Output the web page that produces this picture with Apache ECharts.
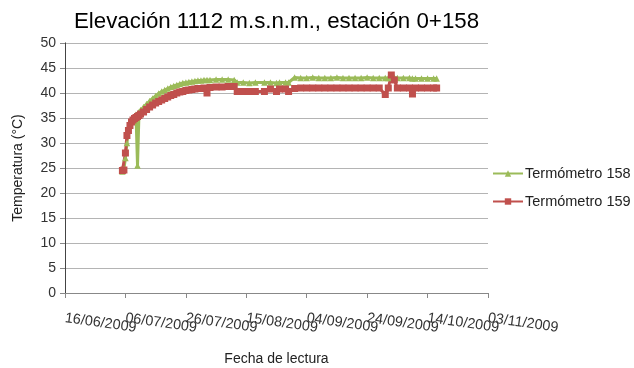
<!DOCTYPE html>
<html>
<head>
<meta charset="utf-8">
<script src="https://cdn.jsdelivr.net/npm/echarts@6/dist/echarts.min.js"></script>
<style>html,body{margin:0;padding:0;background:#fff}#c{width:634px;height:368px}</style>
</head>
<body>
<div id="c"></div>
<script>
var titleText = 'Elevación 1112 m.s.n.m., estación 0+158';
var seriesNames = ['Termómetro 158', 'Termómetro 159'];
var axisStart = '2009-06-16';
var axisEnd = '2009-11-03';
var yTicks = [0, 5, 10, 15, 20, 25, 30, 35, 40, 45, 50];

var dates = [
 '2009-07-05 00:00','2009-07-05 12:00','2009-07-06 00:00','2009-07-06 12:00','2009-07-07 00:00','2009-07-07 12:00',
 '2009-07-08 00:00','2009-07-08 12:00','2009-07-09 00:00','2009-07-09 12:00','2009-07-10 00:00','2009-07-10 12:00',
 '2009-07-11','2009-07-12','2009-07-13','2009-07-14','2009-07-15','2009-07-16','2009-07-17','2009-07-18',
 '2009-07-19','2009-07-20','2009-07-21','2009-07-22','2009-07-23','2009-07-24','2009-07-25','2009-07-26',
 '2009-07-27','2009-07-28','2009-07-29','2009-07-30','2009-07-31','2009-08-01','2009-08-02','2009-08-03',
 '2009-08-05','2009-08-07','2009-08-09','2009-08-11','2009-08-12','2009-08-14','2009-08-16','2009-08-18',
 '2009-08-21','2009-08-23','2009-08-25','2009-08-26','2009-08-28','2009-08-29','2009-08-31','2009-09-02',
 '2009-09-04','2009-09-06','2009-09-08','2009-09-10','2009-09-12','2009-09-14','2009-09-16','2009-09-18',
 '2009-09-20','2009-09-22','2009-09-24','2009-09-26','2009-09-28','2009-09-30','2009-10-01','2009-10-02',
 '2009-10-03','2009-10-04','2009-10-06','2009-10-08','2009-10-09','2009-10-10','2009-10-12','2009-10-14',
 '2009-10-16','2009-10-17'
];
var t158 = [
 24.3,24.8,27.0,30.0,32.5,33.8,
 34.5,35.0,35.4,35.7,25.5,36.2,
 36.6,37.2,37.8,38.4,38.9,39.4,39.9,40.3,
 40.6,40.9,41.2,41.4,41.6,41.8,42.0,42.1,
 42.2,42.3,42.4,42.5,42.5,42.6,42.6,42.6,
 42.7,42.7,42.7,42.6,42.1,42.1,42.0,42.1,
 42.1,42.1,42.0,42.1,42.1,42.1,43.1,43.0,
 43.0,43.1,43.0,43.0,43.0,43.1,43.0,43.0,
 43.0,43.0,43.1,43.0,43.0,43.0,43.0,43.3,
 43.1,43.0,43.0,43.0,42.9,42.9,42.9,42.9,
 42.9,42.9
];
var t159 = [
 24.5,24.6,28.0,31.5,32.5,33.5,
 34.2,34.6,34.9,35.1,35.3,35.5,
 35.8,36.2,36.7,37.2,37.6,38.0,38.3,38.6,
 38.9,39.2,39.5,39.7,40.0,40.2,40.3,40.5,
 40.6,40.7,40.8,40.9,40.9,41.0,40.0,41.1,
 41.2,41.2,41.3,41.3,40.3,40.3,40.3,40.3,
 40.3,40.8,40.3,40.8,40.8,40.3,40.9,41.0,
 41.0,41.0,41.0,41.0,41.0,41.0,41.0,41.0,
 41.0,41.0,41.0,41.0,41.0,39.7,41.0,43.6,
 42.6,41.0,41.0,41.0,39.8,41.0,41.0,41.0,
 41.0,41.0
];

function toMs(s) {
  var p = s.split(' ');
  var d = p[0].split('-');
  var h = 0, m = 0;
  if (p[1]) { var t = p[1].split(':'); h = +t[0]; m = +t[1]; }
  return Date.UTC(+d[0], +d[1] - 1, +d[2], h, m);
}
var DAY = 86400000;
var t0 = toMs(axisStart);
var xMax = toDay(axisEnd);
var xStep = 20;
function toDay(s) { return (toMs(s) - t0) / DAY; }
function pad(n) { return (n < 10 ? '0' : '') + n; }
function dayLabel(v) {
  var dt = new Date(t0 + Math.round(v) * DAY);
  return pad(dt.getUTCDate()) + '/' + pad(dt.getUTCMonth() + 1) + '/' + dt.getUTCFullYear();
}
var xs = dates.map(toDay);
var d158 = xs.map(function (x, i) { return [x, t158[i]]; });
var d159 = xs.map(function (x, i) { return [x, t159[i]]; });

var FONT = 'Liberation Sans';
function xLabelStyle(parity) {
  return {
    rotate: -8, margin: 25, fontFamily: FONT, fontSize: 14.4, color: '#333',
    showMinLabel: true, showMaxLabel: true,
    formatter: function (v) {
      var k = Math.round(v / xStep);
      return (k % 2 === parity) ? dayLabel(v) : '';
    }
  };
}

var chart = echarts.init(document.getElementById('c'));
chart.setOption({
  animation: false,
  backgroundColor: '#fff',
  title: {
    text: titleText, left: 69, top: 6,
    textStyle: { fontFamily: FONT, fontSize: 22.3, fontWeight: 'normal', color: '#000' }
  },
  legend: {
    orient: 'vertical', left: 487, top: 161, itemGap: 13,
    itemWidth: 30, itemHeight: 8,
    textStyle: { fontFamily: FONT, fontSize: 14.5, color: '#222', padding: [0, 0, 0, -3] },
    data: seriesNames
  },
  grid: { left: 65, right: 146, top: 43, bottom: 75, containLabel: false, outerBoundsMode: 'none' },
  xAxis: [{
    type: 'value', min: 0, max: xMax, interval: xStep,
    name: 'Fecha de lectura', nameLocation: 'middle', nameGap: 59,
    nameTextStyle: { fontFamily: FONT, fontSize: 14, color: '#222' },
    axisLine: { show: true, lineStyle: { color: '#888' } },
    axisTick: { show: true, inside: false, length: 5, lineStyle: { color: '#888' } },
    splitLine: { show: false },
    axisLabel: xLabelStyle(0)
  }, {
    type: 'value', min: 0, max: xMax, interval: xStep, position: 'bottom', offset: 0,
    axisLine: { show: false }, axisTick: { show: false }, splitLine: { show: false },
    axisLabel: xLabelStyle(1)
  }],
  yAxis: [{
    type: 'value', min: yTicks[0], max: yTicks[yTicks.length - 1], interval: yTicks[1] - yTicks[0],
    name: 'Temperatura (°C)', nameLocation: 'middle', nameGap: 40,
    nameTextStyle: { fontFamily: FONT, fontSize: 14, color: '#222' },
    axisLine: { show: true, lineStyle: { color: '#888' } },
    axisTick: { show: true, inside: false, length: 5, lineStyle: { color: '#888' } },
    splitLine: { show: true, lineStyle: { color: '#b4b4b4', width: 1 } },
    axisLabel: { margin: 9, fontFamily: FONT, fontSize: 14, color: '#333' }
  }, {
    type: 'value', min: yTicks[0], max: yTicks[yTicks.length - 1], position: 'right',
    axisLine: { show: true, lineStyle: { color: '#444' } },
    axisTick: { show: false }, axisLabel: { show: false }, splitLine: { show: false }
  }],
  series: [{
    name: seriesNames[0], type: 'line', data: d158, xAxisIndex: 0, yAxisIndex: 0,
    symbol: 'triangle', symbolSize: 6.5, showSymbol: true,
    itemStyle: { color: '#9bbb59' },
    lineStyle: { color: '#9bbb59', width: 3 }
  }, {
    name: seriesNames[1], type: 'line', data: d159, xAxisIndex: 0, yAxisIndex: 0,
    symbol: 'rect', symbolSize: 7, showSymbol: true,
    itemStyle: { color: '#c0504d' },
    lineStyle: { color: '#c0504d', width: 3 }
  }]
});
</script>
</body>
</html>
